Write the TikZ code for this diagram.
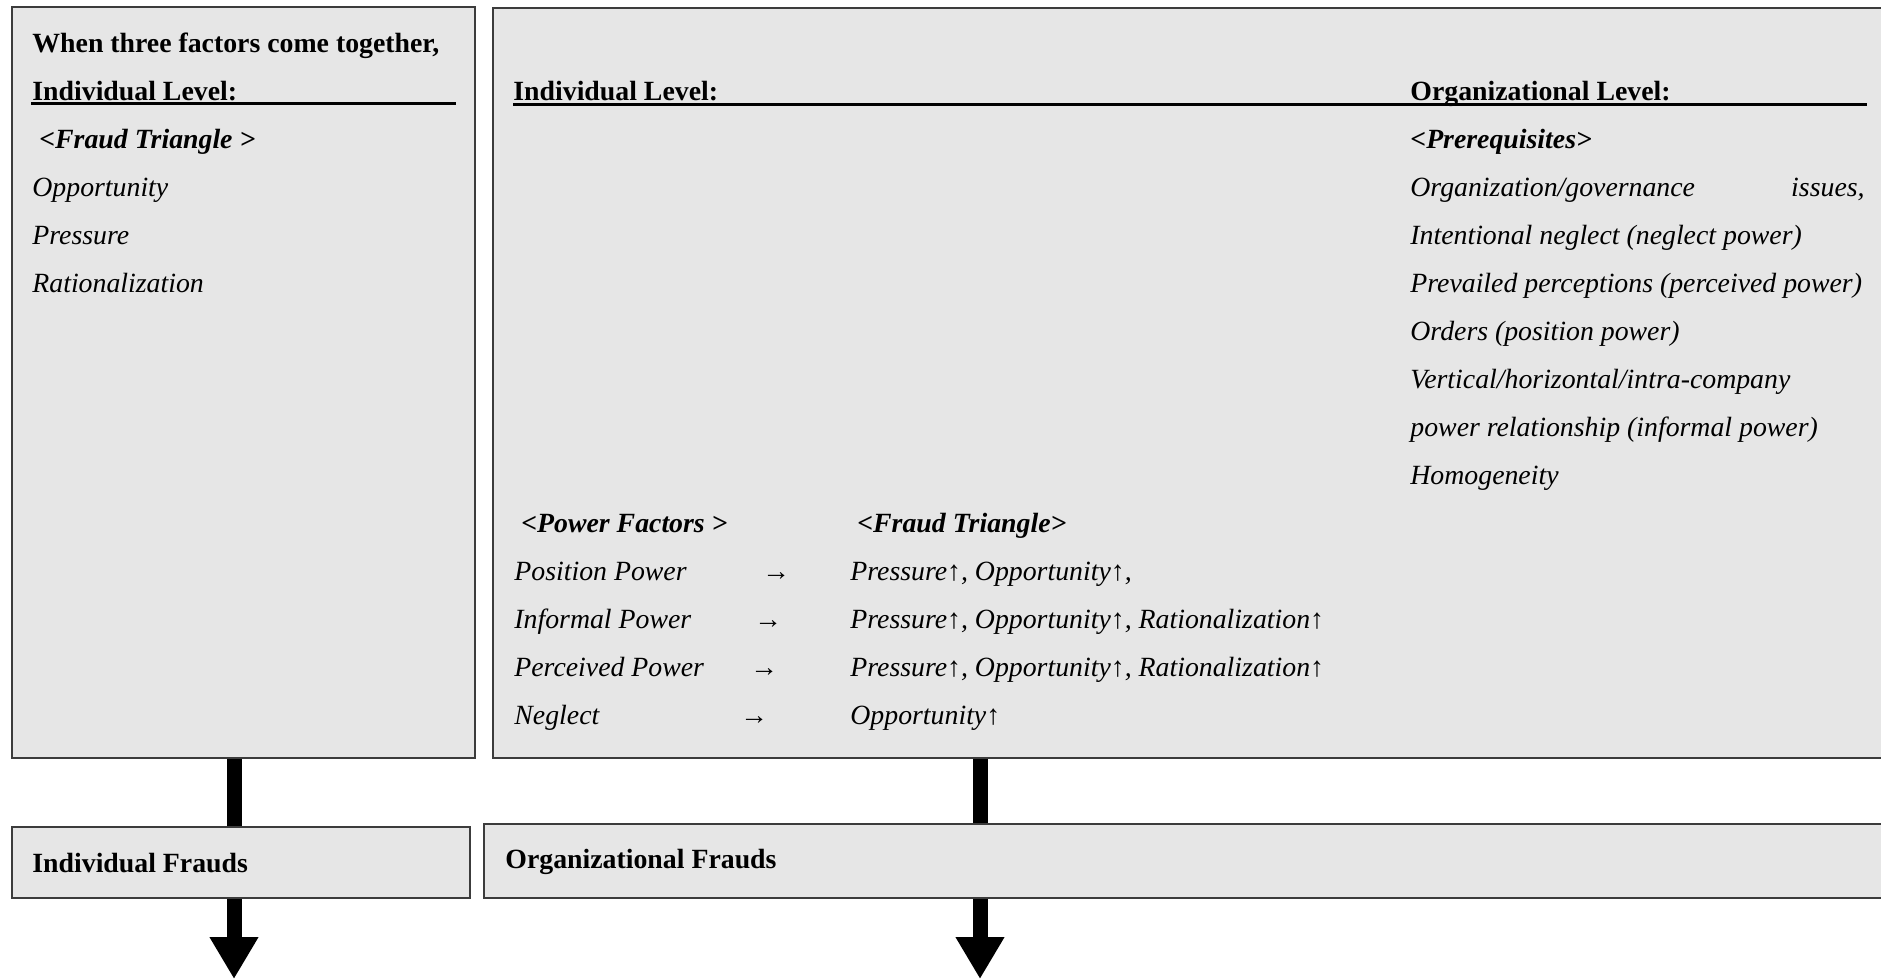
\documentclass[tikz,border=0pt]{standalone}
\usepackage{fontspec}
\setmainfont{Liberation Serif}
\usetikzlibrary{arrows.meta,fit}

\newcommand{\incr}{\textup{↑}}

\tikzset{
	panel/.style={draw=boxline, fill=boxfill, line width=0.8pt, inner sep=0pt},
	txt/.style={anchor=base west, inner sep=0pt, font=\fontsize{13.9pt}{16pt}\selectfont},
	it/.style={txt, font=\fontsize{13.9pt}{16pt}\selectfont\itshape},
	hd/.style={txt, font=\fontsize{13.9pt}{16pt}\selectfont\bfseries},
	hdit/.style={txt, font=\fontsize{13.9pt}{16pt}\selectfont\bfseries\itshape},
	rule/.style={line width=1.4pt},
	link/.style={line width=7.5pt},
	head/.style={-{Triangle[width=23pt,length=21pt]}}
}

\begin{document}
\begin{tikzpicture}[x=0.5pt, y=-0.5pt]
	% Define custom colors
	\definecolor{boxfill}{RGB}{230, 230, 230}
	\definecolor{boxline}{RGB}{60, 60, 60}
	\useasboundingbox (0,0) rectangle (1881,980);
	\coordinate (IA) at (234,0);
	\coordinate (OA) at (980,0);
	\coordinate (IE) at (234,979);
	\coordinate (OE) at (980,979);
	% boxes
	\node[panel, fit={(12,7) (475,758)}] (indbox) {};
	\node[panel, fit={(493,8) (1900,758)}] (orgbox) {};
	\node[panel, fit={(12,827) (470,898)}] (indfr) {};
	\node[panel, fit={(484,824) (1900,898)}] (orgfr) {};
	% left box
	\node[hd] (when) at (32,52) {When three factors come together,};
	\node[hd] (indlev) at (32,100) {Individual Level:};
	\draw[rule] (31,103.5) -- (456,103.5);
	\node[hdit] (tri) at (32,148) {\ <Fraud Triangle\ >};
	\node[it] (opp) at (32,196) {Opportunity};
	\node[it] (pres) at (32,244) {Pressure};
	\node[it] (rat) at (32,292) {Rationalization};
	% right box, header
	\node[hd] (indlev2) at (513,100) {Individual Level:};
	\draw[rule] (513,104.5) -- (1867,104.5);
	\node[hd] (orglev) at (1410,100) {Organizational Level:};
	% prerequisites
	\node[hdit] (pre) at (1410,148) {<Prerequisites>};
	\node[it] (pre1) at (1410,196) {Organization/governance};
	\node[it, anchor=base east] (pre1b) at (1865,196) {issues,};
	\node[it] (pre2) at (1410,244) {Intentional neglect (neglect power)};
	\node[it] (pre3) at (1410,292) {Prevailed perceptions (perceived power)};
	\node[it] (pre4) at (1410,340) {Orders (position power)};
	\node[it] (pre5) at (1410,388) {Vertical/horizontal/intra-company};
	\node[it] (pre6) at (1410,436) {power relationship (informal power)};
	\node[it] (pre7) at (1410,484) {Homogeneity};
	% power factors
	\node[hdit] (pf) at (514,532) {\ <Power Factors\ >};
	\node[hdit] (ft) at (850,532) {\ <Fraud Triangle>};
	\node[it] (pf1) at (514,580) {Position Power};
	\node[txt] (ar1) at (762,580) {→};
	\node[it] (ft1) at (850,580) {Pressure\incr, Opportunity\incr,};
	\node[it] (pf2) at (514,628) {Informal Power};
	\node[txt] (ar2) at (754,628) {→};
	\node[it] (ft2) at (850,628) {Pressure\incr, Opportunity\incr, Rationalization\incr};
	\node[it] (pf3) at (514,676) {Perceived Power};
	\node[txt] (ar3) at (750,676) {→};
	\node[it] (ft3) at (850,676) {Pressure\incr, Opportunity\incr, Rationalization\incr};
	\node[it] (pf4) at (514,724) {Neglect};
	\node[txt] (ar4) at (740,724) {→};
	\node[it] (ft4) at (850,724) {Opportunity\incr};
	% frauds
	\node[hd] (indtxt) at (32,872) {Individual Frauds};
	\node[hd] (orgtxt) at (505,868) {Organizational Frauds};
	% connectors
	\draw[link] (indbox.south -| IA) -- (indfr.north -| IA);
	\draw[link] (orgbox.south -| OA) -- (orgfr.north -| OA);
	\draw[link, head] (indfr.south -| IE) -- (IE);
	\draw[link, head] (orgfr.south -| OE) -- (OE);
\end{tikzpicture}
\end{document}
